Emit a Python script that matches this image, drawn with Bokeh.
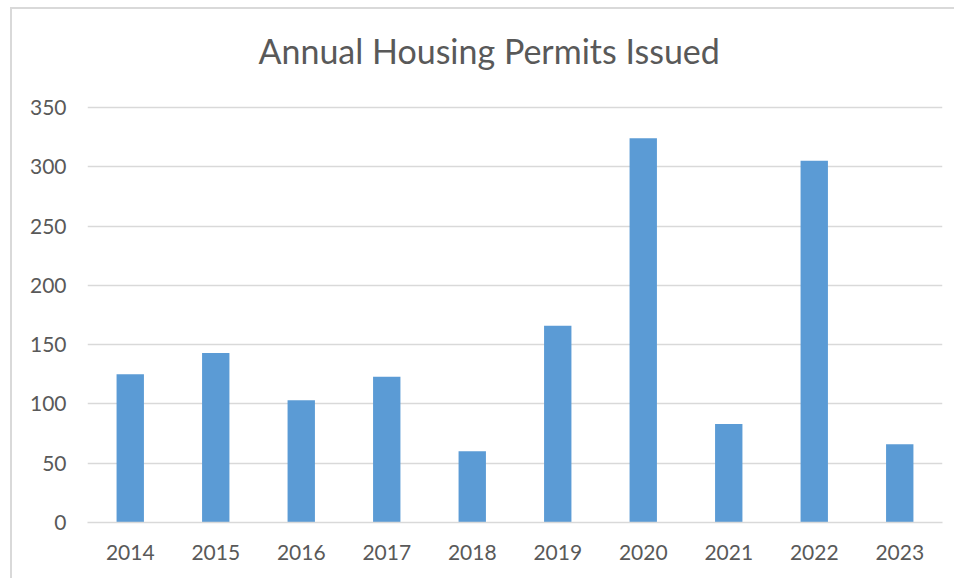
from bokeh.plotting import figure
from bokeh.models import FactorRange, Range1d, FixedTicker, Label
from bokeh.embed import file_html
from bokeh.resources import INLINE

years = ["2014", "2015", "2016", "2017", "2018", "2019", "2020", "2021", "2022", "2023"]
permits = [125, 143, 103, 123, 60, 166, 324, 83, 305, 66]
y_ticks = [0, 50, 100, 150, 200, 250, 300, 350]
title_text = "Annual Housing Permits Issued"

TEXT = "#595959"
GRID = "#D9D9D9"
BAR = "#5B9BD5"
FONT = "Lato"

# frame extends up to the canvas top so that the title can sit inside it;
# the axis scale keeps 350 at the top gridline position
p = figure(
    x_range=FactorRange(*years, range_padding=0),
    y_range=Range1d(0, 432.6),
    width=944, height=571,
    output_backend="svg", toolbar_location=None,
    min_border_left=75, min_border_right=14,
    min_border_top=0, min_border_bottom=58,
)
p.styles = {"border-top": "2px solid #d9d9d9", "border-left": "2px solid #d9d9d9",
            "margin-left": "10px", "margin-top": "7px"}

p.vbar(x=years, top=permits, width=0.32, fill_color=BAR, line_color=None)

title = Label(x=171, y=472, x_units="screen", y_units="screen", text=title_text,
              text_font=FONT, text_font_size="34px", text_color=TEXT,
              text_baseline="alphabetic", text_align="left")
p.add_layout(title)

p.outline_line_color = None
p.xgrid.grid_line_color = None
p.ygrid.grid_line_color = GRID
p.ygrid.grid_line_width = 1.5
p.yaxis.ticker = FixedTicker(ticks=y_ticks)

for ax in (p.xaxis[0], p.yaxis[0]):
    ax.major_label_text_font = FONT
    ax.major_label_text_font_size = "21px"
    ax.major_label_text_color = TEXT
    ax.major_tick_in = 0
    ax.major_tick_out = 0
    ax.minor_tick_in = 0
    ax.minor_tick_out = 0

p.yaxis.axis_line_color = None
p.yaxis.major_label_standoff = 21
p.xaxis.axis_line_color = GRID
p.xaxis.axis_line_width = 1.5
p.xaxis.major_label_standoff = 22

open("out.html", "w").write(file_html(p, INLINE))
